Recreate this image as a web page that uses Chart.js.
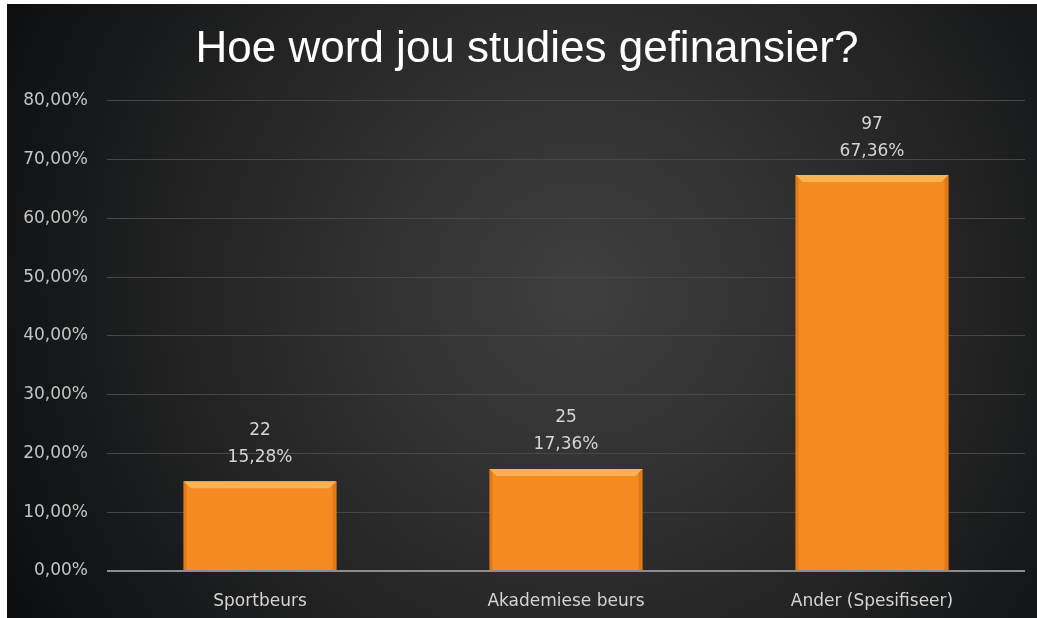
<!DOCTYPE html>
<html>
<head>
<meta charset="utf-8">
<script src="https://cdn.jsdelivr.net/npm/chart.js@4"></script>
<style>
  html, body { margin: 0; padding: 0; background: #fff; }
  #wrap { width: 1037px; height: 618px; }
</style>
</head>
<body>
<div id="wrap"><canvas id="myChart" width="1037" height="618"></canvas></div>
<script>
const categories = ['Sportbeurs', 'Akademiese beurs', 'Ander (Spesifiseer)'];
const counts = [22, 25, 97];
const percents = [15.28, 17.36, 67.36];
const yTicks = [0, 10, 20, 30, 40, 50, 60, 70, 80];

const fmt = v => v.toFixed(2).replace('.', ',') + '%';
const labelFont = '"DejaVu Sans", "Open Sans", sans-serif';

// dark radial background with the thin white strip on the left and top
const bgPlugin = {
  id: 'bg',
  afterLayout(chart) {
    // title sits a little right of the plot centre in the original
    if (chart.titleBlock) {
      chart.titleBlock.left += 11;
      chart.titleBlock.right += 11;
    }
  },
  beforeDraw(chart) {
    const { ctx, width, height } = chart;
    ctx.save();
    ctx.fillStyle = '#ffffff';
    ctx.fillRect(0, 0, width, height);
    const g = ctx.createRadialGradient(580, 290, 20, 580, 290, 640);
    g.addColorStop(0, '#3e3e3e');
    g.addColorStop(0.5, '#282828');
    g.addColorStop(1, '#0c0e10');
    ctx.fillStyle = g;
    ctx.fillRect(7, 4, width - 7, height - 4);
    ctx.restore();
  }
};

// bevel highlight on the bar tops and the two-line labels
const barLabels = {
  id: 'barLabels',
  afterDatasetsDraw(chart) {
    const { ctx } = chart;
    const meta = chart.getDatasetMeta(0);
    ctx.save();
    meta.data.forEach((bar, i) => {
      const half = bar.width / 2;
      const left = bar.x - half, right = bar.x + half;
      const bev = 7;
      // top bevel
      ctx.fillStyle = '#fbb257';
      ctx.beginPath();
      ctx.moveTo(left, bar.y);
      ctx.lineTo(right, bar.y);
      ctx.lineTo(right - bev, bar.y + bev);
      ctx.lineTo(left + bev, bar.y + bev);
      ctx.closePath();
      ctx.fill();
      // side shading
      ctx.fillStyle = 'rgba(190,90,10,0.35)';
      ctx.beginPath();
      ctx.moveTo(right, bar.y);
      ctx.lineTo(right, bar.base);
      ctx.lineTo(right - 4, bar.base);
      ctx.lineTo(right - 4, bar.y + 4);
      ctx.closePath();
      ctx.fill();
      ctx.beginPath();
      ctx.moveTo(left, bar.y);
      ctx.lineTo(left, bar.base);
      ctx.lineTo(left + 3, bar.base);
      ctx.lineTo(left + 3, bar.y + 3);
      ctx.closePath();
      ctx.fill();

      ctx.fillStyle = '#d4d4d4';
      ctx.font = '17px ' + labelFont;
      ctx.textAlign = 'center';
      ctx.textBaseline = 'middle';
      ctx.fillText(String(counts[i]), bar.x, bar.y - 51);
      ctx.fillText(fmt(percents[i]), bar.x, bar.y - 24);
    });
    ctx.restore();
  }
};

const ctx = document.getElementById('myChart').getContext('2d');
const chart = new Chart(ctx, {
  type: 'bar',
  data: {
    labels: categories,
    datasets: [{
      label: 'Persentasie',
      data: percents,
      backgroundColor: '#f58b20',
      borderWidth: 0,
      categoryPercentage: 1,
      barPercentage: 0.5
    }]
  },
  options: {
    responsive: false,
    animation: false,
    layout: { padding: { left: 7, top: 4, right: 12, bottom: 0 } },
    plugins: {
      legend: { display: false },
      tooltip: { enabled: false },
      title: {
        display: true,
        text: 'Hoe word jou studies gefinansier?',
        color: '#ffffff',
        font: { family: '"Liberation Sans", Arial, sans-serif', size: 44, weight: 'normal' },
        padding: { top: 19, bottom: 25 }
      }
    },
    scales: {
      x: {
        grid: { display: false, drawTicks: false },
        border: { display: false },
        ticks: {
          color: '#d4d4d4',
          font: { family: labelFont, size: 17 },
          padding: 20
        },
        afterFit(scale) { scale.height = 47; }
      },
      y: {
        min: 0,
        max: 80,
        afterBuildTicks(scale) { scale.ticks = yTicks.map(v => ({ value: v })); },
        grid: {
          drawTicks: false,
          color: ctx => ctx.tick && ctx.tick.value === 0 ? '#8c8c8c' : '#474747',
          lineWidth: ctx => ctx.tick && ctx.tick.value === 0 ? 2 : 1
        },
        border: { display: false },
        ticks: {
          color: '#c4c4c4',
          font: { family: labelFont, size: 17 },
          padding: 19,
          callback: v => fmt(v)
        },
        afterFit(scale) { scale.width = 100; }
      }
    }
  },
  plugins: [bgPlugin, barLabels]
});
</script>
</body>
</html>
